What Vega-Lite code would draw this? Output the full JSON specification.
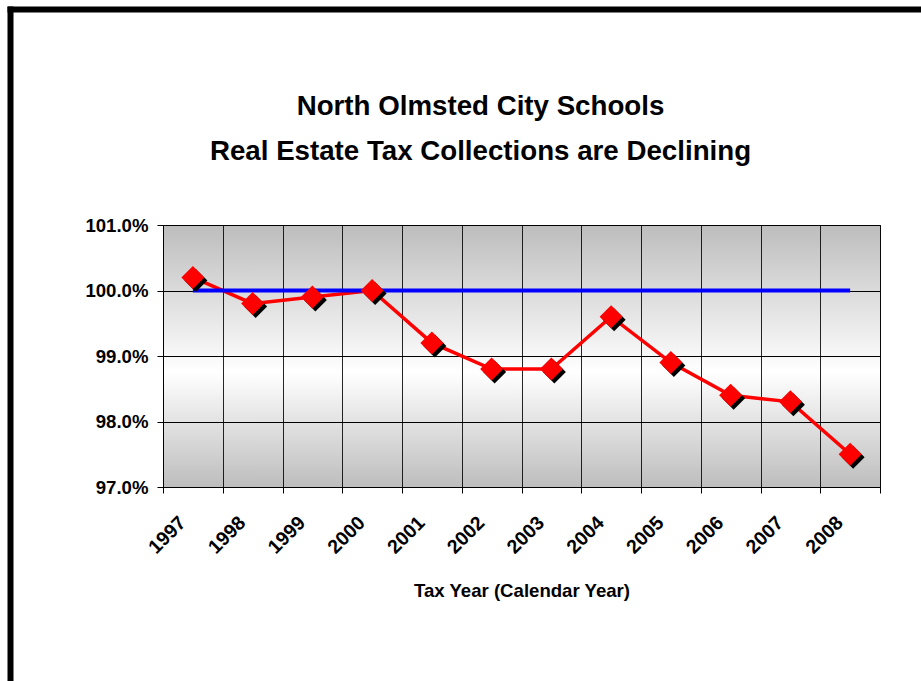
{
  "$schema": "https://vega.github.io/schema/vega-lite/v6.json",
  "width": 717,
  "height": 262,
  "autosize": {"type": "none"},
  "padding": {"left": 163, "top": 225, "right": 41, "bottom": 194},
  "background": "#ffffff",
  "title": {
    "text": ["North Olmsted City Schools", "Real Estate Tax Collections are Declining"],
    "font": "Liberation Sans, Arial, sans-serif",
    "fontSize": 27.7,
    "fontWeight": "bold",
    "color": "#000000",
    "lineHeight": 45,
    "anchor": "middle",
    "frame": "group",
    "dx": -41,
    "offset": -157
  },
  "config": {
    "view": {
      "stroke": "#333333",
      "strokeWidth": 1,
      "fill": {
        "gradient": "linear",
        "x1": 0, "y1": 0, "x2": 0, "y2": 1,
        "stops": [
          {"offset": 0, "color": "#bdbdbd"},
          {"offset": 0.56, "color": "#ffffff"},
          {"offset": 1, "color": "#bdbdbd"}
        ]
      }
    },
    "axis": {
      "labelFont": "Liberation Sans, Arial, sans-serif",
      "titleFont": "Liberation Sans, Arial, sans-serif",
      "labelFontWeight": "bold",
      "titleFontWeight": "bold",
      "labelColor": "#000000",
      "titleColor": "#000000"
    }
  },
  "datasets": {
    "tax": [
      {"year": "1997", "rate": 1.002, "base": 1.0},
      {"year": "1998", "rate": 0.998, "base": 1.0},
      {"year": "1999", "rate": 0.999, "base": 1.0},
      {"year": "2000", "rate": 1.000, "base": 1.0},
      {"year": "2001", "rate": 0.992, "base": 1.0},
      {"year": "2002", "rate": 0.988, "base": 1.0},
      {"year": "2003", "rate": 0.988, "base": 1.0},
      {"year": "2004", "rate": 0.996, "base": 1.0},
      {"year": "2005", "rate": 0.989, "base": 1.0},
      {"year": "2006", "rate": 0.984, "base": 1.0},
      {"year": "2007", "rate": 0.983, "base": 1.0},
      {"year": "2008", "rate": 0.975, "base": 1.0}
    ],
    "frame": [{"fx": 0, "fy": 0}]
  },
  "layer": [
    {
      "data": {"name": "tax"},
      "encoding": {
        "x": {
          "field": "year",
          "type": "ordinal",
          "scale": {"type": "band", "paddingInner": 0, "paddingOuter": 0},
          "axis": {
            "title": "Tax Year (Calendar Year)",
            "titleFontSize": 18.6,
            "titlePadding": 25,
            "labelFontSize": 19.5,
            "labelAngle": -45,
            "labelAlign": "right",
            "labelBaseline": "top",
            "labelPadding": 20,
            "labelOffset": -17,
            "tickBand": "extent",
            "tickSize": 6,
            "tickColor": "#000000",
            "domainColor": "#000000",
            "grid": true,
            "gridColor": "#000000",
            "gridOpacity": 0.85,
            "gridWidth": 1
          }
        },
        "y": {
          "field": "rate",
          "type": "quantitative",
          "scale": {"domain": [0.97, 1.01], "nice": false, "zero": false},
          "axis": {
            "title": null,
            "values": [0.97, 0.98, 0.99, 1.0, 1.01],
            "format": ".1%",
            "labelFontSize": 18.6,
            "labelPadding": 9,
            "tickSize": 6,
            "tickColor": "#000000",
            "domainColor": "#000000",
            "grid": true,
            "gridColor": "#000000",
            "gridWidth": 1
          }
        }
      },
      "layer": [
        {"mark": {"type": "line", "color": "#ff0000", "strokeWidth": 3.5}},
        {"mark": {"type": "line", "color": "#0000ff", "strokeWidth": 4}, "encoding": {"y": {"field": "base", "type": "quantitative"}}},
        {"mark": {"type": "point", "shape": "diamond", "filled": true, "size": 530, "color": "#000000", "opacity": 1, "xOffset": 3, "yOffset": 3}},
        {"mark": {"type": "point", "shape": "diamond", "filled": true, "size": 530, "color": "#ff0000", "opacity": 1}}
      ]
    },
    {
      "data": {"name": "frame"},
      "mark": {"type": "point", "opacity": 0},
      "encoding": {
        "x": {
          "field": "fx",
          "type": "quantitative",
          "scale": {"domain": [0, 1], "range": [-156, 900]},
          "axis": {"orient": "top", "offset": 216, "domainWidth": 6, "domainColor": "#000000", "ticks": false, "labels": false, "grid": false, "title": null}
        },
        "y": {
          "field": "fy",
          "type": "quantitative",
          "scale": {"domain": [0, 1], "range": [520, -219]},
          "axis": {"orient": "left", "offset": 153, "domainWidth": 6, "domainColor": "#000000", "ticks": false, "labels": false, "grid": false, "title": null}
        }
      }
    }
  ],
  "resolve": {"scale": {"x": "independent", "y": "independent"}, "axis": {"x": "independent", "y": "independent"}}
}
